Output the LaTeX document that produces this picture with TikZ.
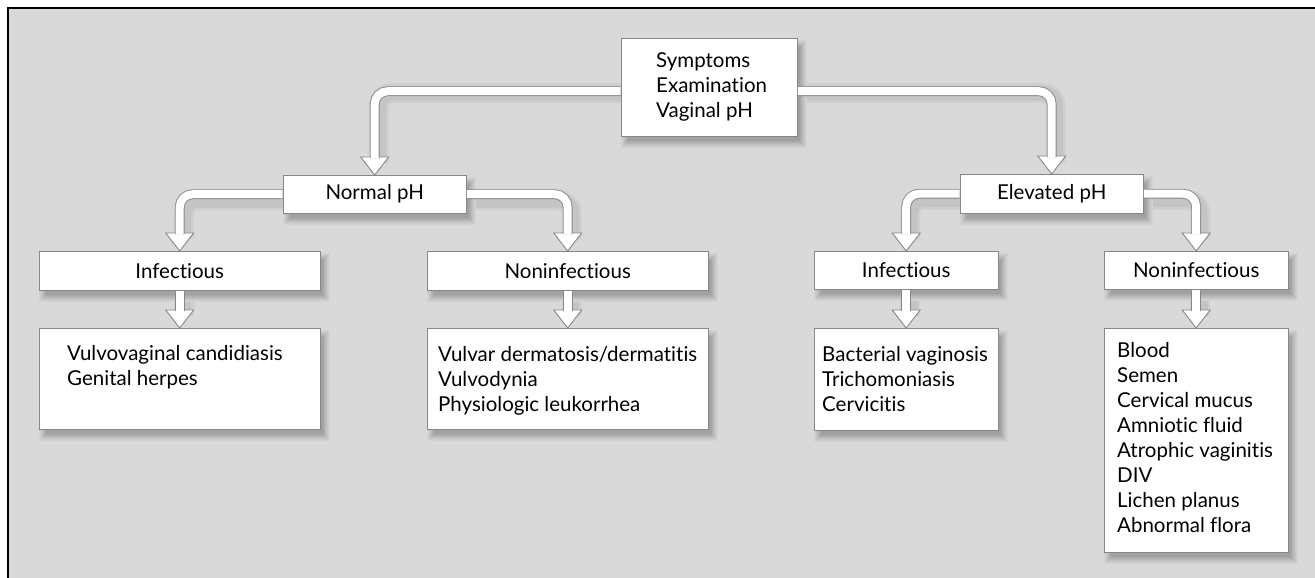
\documentclass[tikz,border=0pt]{standalone}
\usepackage{fontspec}
\setmainfont[Ligatures={NoCommon,NoContextual}]{Lato}
\usetikzlibrary{calc}
\definecolor{bgc}{RGB}{217,217,217}
\definecolor{edgec}{RGB}{135,135,135}
\definecolor{shadowc}{RGB}{120,120,120}
\tikzset{
  boxshape/.style={draw=none, fill=none, inner sep=0pt, anchor=north west},
  boxdraw/.style={draw=edgec, line width=0.8pt, fill=white},
  lbl/.style={inner sep=0pt, font=\fontsize{20.5}{25}\selectfont, align=left, anchor=north west,
    execute at begin node={\rule{0pt}{16pt}}},
  ctr/.style={inner sep=0pt, font=\fontsize{20.5}{25}\selectfont},
  shaft/.style={draw=edgec, line width=0.9pt, double=white, double distance=8pt, rounded corners=13pt},
  arrhead/.style={draw=edgec, line width=0.9pt, fill=white, line join=miter},
}
\newcommand\shstep[3]{%
  \fill[shadowc!#3!bgc] ([shift={(7-#2,9-#2)}]#1.north west) rectangle ([shift={(3+#2,5+#2)}]#1.south east);}
\newcommand\boxshadow[1]{%
  \shstep{#1}{7}{6}\shstep{#1}{6}{12}\shstep{#1}{5}{19}\shstep{#1}{4}{26}%
  \shstep{#1}{3}{34}\shstep{#1}{2}{42}\shstep{#1}{1}{50}\shstep{#1}{0}{58}}
\newcommand\boxbody[1]{\draw[boxdraw] (#1.north west) rectangle (#1.south east);}
\newcommand\elbowshadow[2]{%
  \draw[shadowc!10!bgc, line width=20pt, rounded corners=13pt] ([shift={(4,6)}]#1) -| ([shift={(4,-12)}]#2.north);
  \draw[shadowc!22!bgc, line width=15pt, rounded corners=13pt] ([shift={(4,6)}]#1) -| ([shift={(4,-12)}]#2.north);}
\newcommand\downshadow[2]{%
  \draw[shadowc!10!bgc, line width=20pt] ([shift={(4,6)}]#1) -- ([shift={(4,-12)}]#2.north);
  \draw[shadowc!22!bgc, line width=15pt] ([shift={(4,6)}]#1) -- ([shift={(4,-12)}]#2.north);}
\newcommand\myelbowarrow[2]{%
  \draw[arrhead] ([shift={(-14,-18)}]#2.north) -- (#2.north) -- ([shift={(14,-18)}]#2.north) -- cycle;
  \draw[shaft] #1 -| ([shift={(0,-17)}]#2.north);}
\newcommand\mydownarrow[2]{%
  \draw[arrhead] ([shift={(-14,-18)}]#2.north) -- (#2.north) -- ([shift={(14,-18)}]#2.north) -- cycle;
  \draw[shaft] #1 -- ([shift={(0,-17)}]#2.north);}
\begin{document}
\begin{tikzpicture}[x=1pt,y=-1pt]
\useasboundingbox (0,0) rectangle (1315,578);
\fill[white] (0,0) rectangle (1315,578);
\fill[bgc] (8,8) rectangle (1315,578);
\draw[black, line width=2.4pt] (8,578) -- (8,8) -- (1315,8);

% box geometry
\node[boxshape, minimum width=176pt, minimum height=98pt] (top) at (621,38) {};
\node[boxshape, minimum width=183pt, minimum height=38pt] (normal) at (283,175) {};
\node[boxshape, minimum width=183pt, minimum height=39pt] (elev) at (960,174) {};
\node[boxshape, minimum width=281pt, minimum height=39pt] (inf1) at (39,251) {};
\node[boxshape, minimum width=281pt, minimum height=39pt] (non1) at (427,251) {};
\node[boxshape, minimum width=184pt, minimum height=38pt] (inf2) at (814,251) {};
\node[boxshape, minimum width=184pt, minimum height=38pt] (non2) at (1104,251) {};
\node[boxshape, minimum width=281pt, minimum height=101pt] (vvc) at (39,328) {};
\node[boxshape, minimum width=281pt, minimum height=101pt] (vd) at (427,328) {};
\node[boxshape, minimum width=184pt, minimum height=102pt] (bv) at (814,328) {};
\node[boxshape, minimum width=184pt, minimum height=224pt] (blood) at (1104,328) {};

% shadows
\elbowshadow{top.west}{normal}
\elbowshadow{top.east}{elev}
\elbowshadow{normal.west}{inf1}
\elbowshadow{normal.east}{non1}
\elbowshadow{elev.west}{inf2}
\elbowshadow{elev.east}{non2}
\downshadow{inf1.south}{vvc}
\downshadow{non1.south}{vd}
\downshadow{inf2.south}{bv}
\downshadow{non2.south}{blood}
\boxshadow{top}\boxshadow{normal}\boxshadow{elev}\boxshadow{inf1}\boxshadow{non1}
\boxshadow{inf2}\boxshadow{non2}\boxshadow{vvc}\boxshadow{vd}\boxshadow{bv}\boxshadow{blood}

% box bodies
\boxbody{top}\boxbody{normal}\boxbody{elev}\boxbody{inf1}\boxbody{non1}
\boxbody{inf2}\boxbody{non2}\boxbody{vvc}\boxbody{vd}\boxbody{bv}\boxbody{blood}

% texts
\node[lbl] (topt) at ([shift={(35,14)}]top.north west) {Symptoms\\Examination\\Vaginal pH};
\node[ctr] (normalt) at (normal.center) {Normal pH};
\node[ctr] (elevt) at (elev.center) {Elevated pH};
\node[ctr] (inf1t) at (inf1.center) {Infectious};
\node[ctr] (non1t) at (non1.center) {Noninfectious};
\node[ctr] (inf2t) at (inf2.center) {Infectious};
\node[ctr] (non2t) at (non2.center) {Noninfectious};
\node[lbl] (vvct) at ([shift={(28,17)}]vvc.north west) {Vulvovaginal candidiasis\\Genital herpes};
\node[lbl] (vdt) at ([shift={(11,18)}]vd.north west) {Vulvar dermatosis/dermatitis\\Vulvodynia\\Physiologic leukorrhea};
\node[lbl] (bvt) at ([shift={(8,18)}]bv.north west) {Bacterial vaginosis\\Trichomoniasis\\Cervicitis};
\node[lbl] (bloodt) at ([shift={(13,14)}]blood.north west) {Blood\\Semen\\Cervical mucus\\Amniotic fluid\\Atrophic vaginitis\\DIV\\Lichen planus\\Abnormal flora};

% arrows
\myelbowarrow{([xshift=-0.4pt,yshift=-4pt]top.west)}{normal}
\myelbowarrow{([xshift=0.4pt,yshift=-4pt]top.east)}{elev}
\myelbowarrow{([xshift=-0.4pt]normal.west)}{inf1}
\myelbowarrow{([xshift=0.4pt]normal.east)}{non1}
\myelbowarrow{([xshift=-0.4pt]elev.west)}{inf2}
\myelbowarrow{([xshift=0.4pt]elev.east)}{non2}
\mydownarrow{([yshift=-0.4pt]inf1.south)}{vvc}
\mydownarrow{([yshift=-0.4pt]non1.south)}{vd}
\mydownarrow{([yshift=-0.4pt]inf2.south)}{bv}
\mydownarrow{([yshift=-0.4pt]non2.south)}{blood}
\end{tikzpicture}
\end{document}
